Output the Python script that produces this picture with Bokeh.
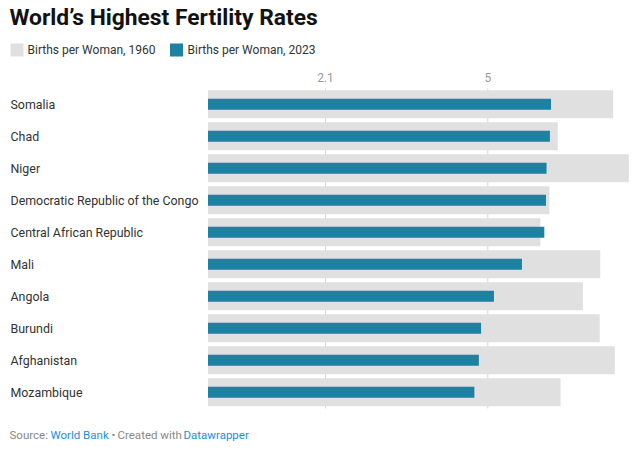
from bokeh.plotting import figure
from bokeh.models import Range1d, ColumnDataSource
from bokeh.core.properties import value
from bokeh.embed import file_html
from bokeh.resources import INLINE

# ---------------- data ----------------
countries = ["Somalia", "Chad", "Niger", "Democratic Republic of the Congo",
             "Central African Republic", "Mali", "Angola", "Burundi",
             "Afghanistan", "Mozambique"]
rate_1960 = [7.24, 6.25, 7.52, 6.10, 5.94, 7.01, 6.70, 7.00, 7.27, 6.30]
rate_2023 = [6.13, 6.11, 6.05, 6.04, 6.01, 5.61, 5.11, 4.88, 4.84, 4.76]
tick_values = [2.1, 5]
tick_labels = ["2.1", "5"]
title = "World\u2019s Highest Fertility Rates"
legend_labels = ["Births per Woman, 1960", "Births per Woman, 2023"]

# ---------------- layout ----------------
W, H = 640, 452
ZERO_X = 207.5           # page x of value 0
PX_PER_UNIT = 55.96
ROW0_Y = 103.7           # page y of first row centre
ROW_PITCH = 32.0

def X(page_x):
    return (page_x - ZERO_X) / PX_PER_UNIT

def Y(page_y):
    return (page_y - ROW0_Y) / ROW_PITCH

GREY = "#e0e0e0"
TEAL = "#1d81a2"
FONT = value("Roboto")

p = figure(width=W, height=H, output_backend="svg", toolbar_location=None,
           x_axis_type=None, y_axis_type=None,
           x_range=Range1d(X(0), X(W)),
           y_range=Range1d(Y(H), Y(0)),
           min_border=0, min_border_left=0, min_border_right=0,
           min_border_top=0, min_border_bottom=0)
p.outline_line_color = None
p.background_fill_color = "white"
p.border_fill_color = "white"
p.xgrid.visible = False
p.ygrid.visible = False

rows = list(range(len(countries)))
src = ColumnDataSource(dict(y=rows, country=countries, r60=rate_1960, r23=rate_2023,
                            zero=[0] * len(rows)))

# grid lines at ticks
p.segment(x0=tick_values, x1=tick_values, y0=[Y(88)] * 2, y1=[Y(408)] * 2,
          line_color="#d9d9d9", line_width=1)

# bars
p.hbar(y="y", left="zero", right="r60", height=28 / ROW_PITCH, source=src,
       fill_color=GREY, line_color=None)
p.hbar(y="y", left="zero", right="r23", height=11 / ROW_PITCH, source=src,
       fill_color=TEAL, line_color=None)

# tick labels
p.text(x=tick_values, y=[Y(77)] * 2, text=tick_labels, text_font=FONT,
       text_font_size="12px", text_color="#999999", text_align="center",
       text_baseline="middle")

# country labels
p.text(x=X(10), y="y", text="country", source=src, text_font=FONT,
       text_font_size="12.4px", text_color="#333333", text_align="left",
       text_baseline="middle")

# title
p.text(x=[X(9)], y=[Y(17)], text=[title], text_font=FONT, text_font_size="22.8px",
       text_font_style="bold", text_color="#111111", text_align="left",
       text_baseline="middle")

# legend
p.scatter(x=[X(16.5), X(176)], y=[Y(49.5)] * 2, marker="square", size=13,
          fill_color=[GREY, TEAL], line_color=None)
p.text(x=[X(27), X(187)], y=[Y(49.5)] * 2, text=legend_labels, text_font=FONT,
       text_font_size="12px", text_color="#333333", text_align="left",
       text_baseline="middle")

# footer
p.text(x=[X(9), X(50), X(111), X(117), X(183)], y=[Y(434)] * 5,
       text=["Source:", "World Bank", "\u2022", "Created with", "Datawrapper"],
       text_font=FONT, text_font_size="11.5px",
       text_color=["#888888", "#1d8fdc", "#888888", "#888888", "#1d8fdc"],
       text_align="left", text_baseline="middle")

open("out.html", "w").write(file_html(p, INLINE))
